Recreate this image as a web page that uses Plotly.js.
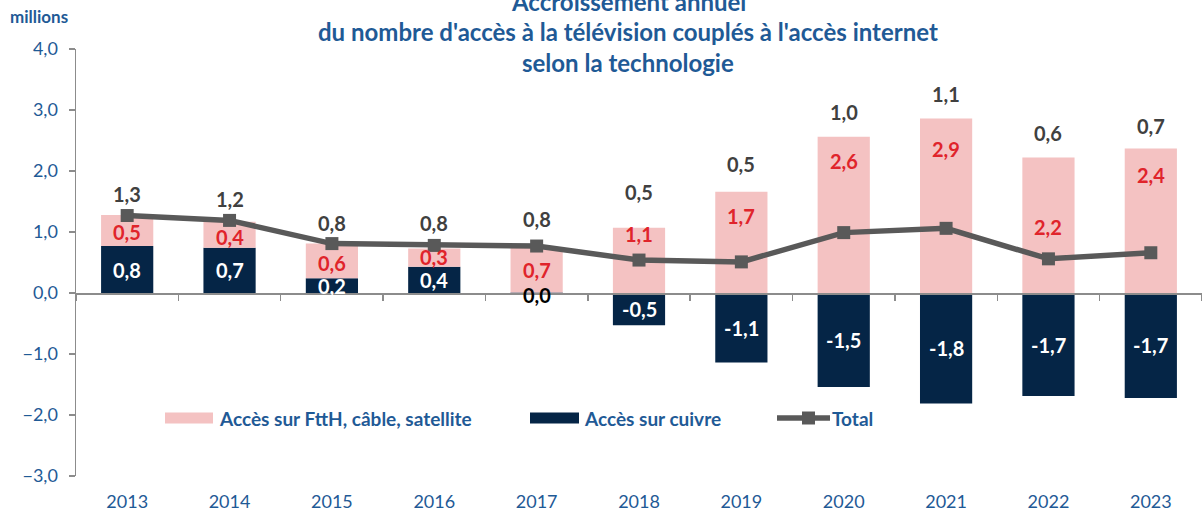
<!DOCTYPE html>
<html>
<head>
<meta charset="utf-8">
<script src="https://cdn.plot.ly/plotly-3.0.1.min.js"></script>
<style>
  html, body { margin: 0; padding: 0; background: #fff; }
  #chart { width: 1202px; height: 516px; }
</style>
</head>
<body>
<div id="chart"></div>
<script>
// ---- data ----
const years = ['2013','2014','2015','2016','2017','2018','2019','2020','2021','2022','2023'];
const cuivre = [0.77, 0.74, 0.24, 0.43, 0.01, -0.53, -1.14, -1.54, -1.81, -1.69, -1.72];
const ftth   = [0.51, 0.43, 0.57, 0.30, 0.74, 1.07, 1.66, 2.56, 2.86, 2.22, 2.37];
const total  = [1.27, 1.19, 0.81, 0.78, 0.77, 0.54, 0.51, 0.99, 1.06, 0.56, 0.66];
const seriesNames = ['Accès sur FttH, câble, satellite', 'Accès sur cuivre', 'Total'];
const yTicks = [-3, -2, -1, 0, 1, 2, 3, 4];

// ---- label placement (pixels, style only) ----
const ftthLabelDrop = [17, 15, 19, 9, 23, 6, 24, 24, 30, 69, 27];
const totalLabelRise = [21, 21, 21, 22, 27, 36, 28, 25, 25, 25, 22];

const FONT = 'Lato, "Open Sans", sans-serif';
const BLUE = '#1f5a96';
const PINK = '#f4c2c2';
const NAVY = '#052546';
const RED = '#e0242b';
const GREY = '#595959';
const fmt = v => v.toFixed(1).replace('.', ',');

const traces = [
  {
    type: 'bar', name: seriesNames[1], x: years, y: cuivre,
    marker: { color: NAVY },
    width: 0.51,
    hoverinfo: 'skip', showlegend: false
  },
  {
    type: 'bar', name: seriesNames[0], x: years, y: ftth,
    marker: { color: PINK },
    width: 0.51,
    hoverinfo: 'skip', showlegend: false
  },
  {
    type: 'scatter', mode: 'lines+markers', name: seriesNames[2], x: years, y: total,
    line: { color: GREY, width: 5.5 },
    marker: { symbol: 'square', size: 13, color: GREY },
    hoverinfo: 'skip', showlegend: false
  }
];

const LBL = 20;
const annotations = [];
years.forEach((yr, i) => {
  // copper labels, centred in the bar
  annotations.push({
    x: i, y: cuivre[i] / 2, xref: 'x', yref: 'y', text: fmt(cuivre[i]), showarrow: false,
    yanchor: 'middle', yshift: Math.abs(cuivre[i]) < 0.05 ? -2 : 0,
    font: { family: FONT, size: LBL, weight: 700,
      color: Math.abs(cuivre[i]) < 0.05 ? '#000000' : '#ffffff' }
  });
  const top = cuivre[i] > 0 ? cuivre[i] + ftth[i] : ftth[i];
  annotations.push({
    x: i, y: top, xref: 'x', yref: 'y', text: fmt(ftth[i]), showarrow: false,
    yanchor: 'middle', yshift: -ftthLabelDrop[i],
    font: { family: FONT, size: LBL, weight: 700, color: RED }
  });
  const base = Math.max(top, total[i]);
  annotations.push({
    x: i, y: base, xref: 'x', yref: 'y', text: fmt(total[i]), showarrow: false,
    yanchor: 'middle', yshift: totalLabelRise[i],
    font: { family: FONT, size: LBL, weight: 700, color: '#404040' }
  });
});

const L = 76, T = 49, PW = 1126, PH = 427;
const px = x => (x - L) / PW;
const py = y => (T + PH - y) / PH;

['Accroissement annuel',
 "du nombre d'accès à la télévision couplés à l'accès internet",
 'selon la technologie'].forEach((t, i) => {
  annotations.push({
    x: px(628), y: py([1, 32, 62][i]), xref: 'paper', yref: 'paper',
    text: t, showarrow: false, xanchor: 'center', yanchor: 'middle',
    font: { family: FONT, size: 24, weight: 700, color: BLUE }
  });
});
annotations.push({
  x: px(8), y: py(17), xref: 'paper', yref: 'paper', text: 'millions',
  showarrow: false, xanchor: 'left', yanchor: 'middle',
  font: { family: FONT, size: 17, weight: 700, color: BLUE }
});

const legY = py(418);
const LEG = 19;
annotations.push(
  { x: px(217), y: legY, xref: 'paper', yref: 'paper', text: seriesNames[0], showarrow: false,
    xanchor: 'left', yanchor: 'middle', font: { family: FONT, size: LEG, weight: 700, color: BLUE } },
  { x: px(582), y: legY, xref: 'paper', yref: 'paper', text: seriesNames[1], showarrow: false,
    xanchor: 'left', yanchor: 'middle', font: { family: FONT, size: LEG, weight: 700, color: BLUE } },
  { x: px(830), y: legY, xref: 'paper', yref: 'paper', text: seriesNames[2], showarrow: false,
    xanchor: 'left', yanchor: 'middle', font: { family: FONT, size: LEG, weight: 700, color: BLUE } }
);
const shapes = [
  { type: 'rect', xref: 'paper', yref: 'paper', x0: px(165), x1: px(213), y0: py(423.5), y1: py(412.5),
    fillcolor: PINK, line: { width: 0 } },
  { type: 'rect', xref: 'paper', yref: 'paper', x0: px(530), x1: px(579), y0: py(423.5), y1: py(412.5),
    fillcolor: NAVY, line: { width: 0 } },
  { type: 'line', xref: 'paper', yref: 'paper', x0: px(777), x1: px(830), y0: legY, y1: legY,
    line: { color: GREY, width: 5.5 } },
  { type: 'rect', xref: 'paper', yref: 'paper', x0: px(802), x1: px(815), y0: py(424.5), y1: py(411.5),
    fillcolor: GREY, line: { width: 0 } }
];

const layout = {
  width: 1202, height: 516,
  margin: { l: L, r: 1202 - L - PW, t: T, b: 516 - T - PH, pad: 0 },
  paper_bgcolor: '#ffffff', plot_bgcolor: '#ffffff',
  barmode: 'relative',
  separators: ', ',
  showlegend: false,
  xaxis: {
    type: 'category', range: [-0.5, 10.5], autorange: false,
    anchor: 'free', position: 3 / 7,
    showline: true, linecolor: '#8c8c8c', linewidth: 1.5,
    ticks: 'outside', tickson: 'boundaries', ticklen: 6, tickcolor: '#8c8c8c', tickwidth: 1.5,
    showgrid: false, zeroline: false,
    tickangle: 0,
    ticklabelstandoff: 192,
    tickfont: { family: FONT, size: 18, color: BLUE }
  },
  yaxis: {
    range: [-3, 4], autorange: false, tickvals: yTicks, tickformat: '.1f',
    showline: true, linecolor: '#8c8c8c', linewidth: 1.5,
    ticks: 'outside', ticklen: 6, tickcolor: '#8c8c8c', tickwidth: 1.5,
    showgrid: false, zeroline: false,
    ticklabelstandoff: 7,
    tickfont: { family: FONT, size: 18, color: BLUE }
  },
  annotations: annotations,
  shapes: shapes,
  font: { family: FONT }
};

Plotly.newPlot('chart', traces, layout, { displayModeBar: false, staticPlot: true });
</script>
</body>
</html>
